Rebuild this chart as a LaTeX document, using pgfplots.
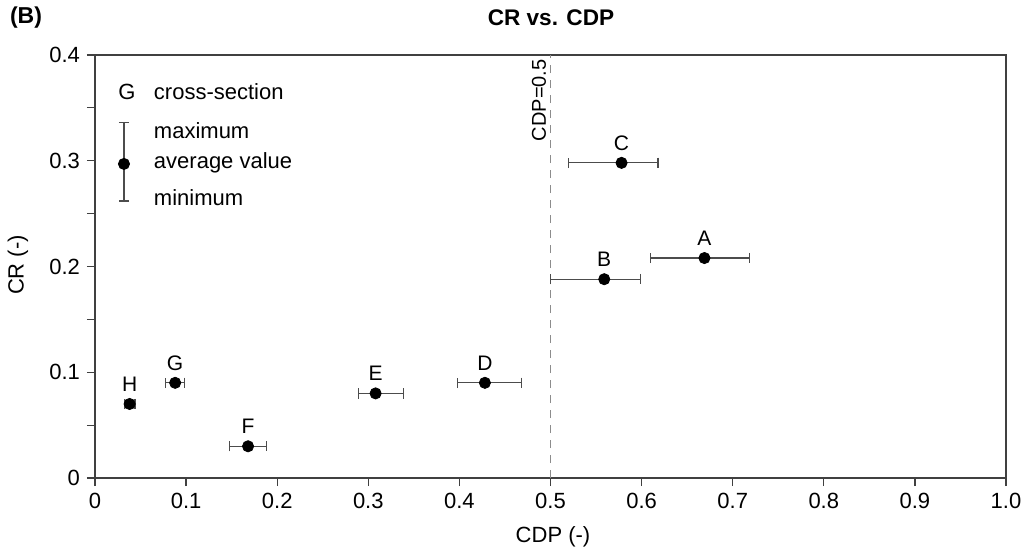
\documentclass[border=0pt]{standalone}
\usepackage{fontspec}
\setmainfont{Liberation Sans}
\usepackage{pgfplots}
\pgfplotsset{compat=1.18}
\usepackage{pgfplotstable}
\pgfplotstableread{
x y xm xp lab
0.038 0.070 0.006 0.006 H
0.088 0.090 0.011 0.010 G
0.168 0.030 0.020 0.020 F
0.308 0.080 0.019 0.031 E
0.428 0.090 0.030 0.040 D
0.559 0.188 0.059 0.040 B
0.578 0.298 0.058 0.040 C
0.669 0.208 0.059 0.049 A
}\pts
\begin{document}
\begin{tikzpicture}[font=\fontsize{11}{13}\selectfont]
\begin{axis}[
  scale only axis, width=455.5pt, height=211.5pt,
  xmin=0, xmax=1, ymin=0, ymax=0.4,
  xtick={0,0.1,0.2,0.3,0.4,0.5,0.6,0.7,0.8,0.9,1},
  xticklabels={0,0.1,0.2,0.3,0.4,0.5,0.6,0.7,0.8,0.9,1.0},
  ytick={0,0.1,0.2,0.3,0.4},
  yticklabels={0,0.1,0.2,0.3,0.4},
  minor ytick={0.05,0.15,0.25,0.35},
  xtick pos=bottom, ytick pos=left, tick align=outside,
  major tick length=4pt, minor tick length=4pt,
  axis line style={black!75, line width=0.6pt},
  every tick/.style={black!75, line width=0.6pt},
  tick label style={font=\fontsize{11}{13}\selectfont},
  /pgf/number format/assume math mode=true,
  clip=false,
]
\draw[black!45, line width=0.6pt, dash pattern=on 4pt off 3.5pt] (axis cs:0.5,0) -- (axis cs:0.5,0.4);
\node[rotate=90, anchor=south east, inner sep=2pt, font=\fontsize{10}{12}\selectfont] at (axis cs:0.5,0.4) {CDP=0.5};
\addplot[only marks, mark=*, mark size=2.8pt, black,
  nodes near coords, point meta=explicit symbolic,
  every node near coord/.append style={anchor=south, yshift=2.7pt, black, font=\fontsize{10.5}{12}\selectfont},
  error bars/.cd, x dir=both, x explicit,
  error mark=|,
  error bar style={black!70, line width=0.6pt},
  error mark options={black!70, mark size=2.6pt, line width=0.6pt, solid}]
  table[x=x, y=y, x error minus=xm, x error plus=xp, meta=lab] {\pts};
% legend
\addplot[only marks, mark=*, mark size=2.8pt, black,
  error bars/.cd, y dir=both, y explicit,
  error mark=|,
  error bar style={black!70, line width=0.6pt},
  error mark options={black!70, mark size=2.6pt, line width=0.6pt, solid}]
  coordinates {(0.0318,0.297) += (0,0.039) -= (0,0.035)};
\node at (axis cs:0.035,0.365) {G};
\node[anchor=west] at (axis cs:0.057,0.365) {cross-section};
\node[anchor=west] at (axis cs:0.057,0.3286) {maximum};
\node[anchor=west] at (axis cs:0.057,0.2979) {average value};
\node[anchor=west] at (axis cs:0.057,0.2648) {minimum};
\end{axis}
\node[anchor=west, font=\fontsize{11.5}{13}\selectfont\bfseries] at (-46pt,230pt) {(B)};
\node[font=\fontsize{11.3}{13}\selectfont\bfseries] at (228pt,230pt) {CR vs. CDP};
\node[rotate=90] at (-38.5pt,106.5pt) {CR (-)};
\node at (229pt,-29.5pt) {CDP (-)};
\pgfresetboundingbox
\path[use as bounding box] (-47.5pt,-37.5pt) rectangle (464.5pt,239pt);
\end{tikzpicture}
\end{document}
